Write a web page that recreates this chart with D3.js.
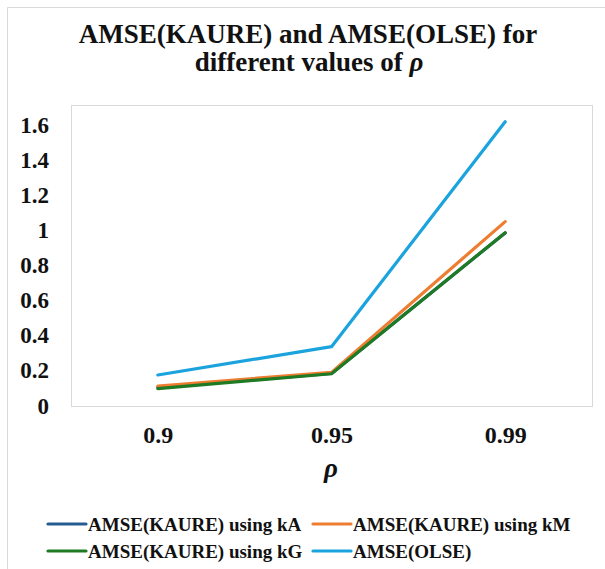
<!DOCTYPE html>
<html>
<head>
<meta charset="utf-8">
<script src="https://cdn.jsdelivr.net/npm/d3@7/dist/d3.min.js"></script>
<style>
  html, body { margin: 0; padding: 0; background: #fff; }
  svg { display: block; }
</style>
</head>
<body>
<svg id="chart" width="605" height="569"></svg>
<script>
// Correlation levels on the x axis
const rhoValues = ["0.9", "0.95", "0.99"];
// AMSE values for each estimator
const kaureKA = [0.100, 0.180, 0.980];
const kaureKM = [0.108, 0.186, 1.044];
const kaureKG = [0.093, 0.178, 0.981];
const olse    = [0.171, 0.332, 1.613];
const yTicks = [0, 0.2, 0.4, 0.6, 0.8, 1, 1.2, 1.4, 1.6];

const seriesNames = [
  "AMSE(KAURE) using kA",
  "AMSE(KAURE) using kM",
  "AMSE(KAURE) using kG",
  "AMSE(OLSE)"
];
const seriesColors = ["#245d8f", "#ed7d31", "#1f7a24", "#1aa3dd"];
const series = [kaureKA, kaureKM, kaureKG, olse];

const FONT = '"Liberation Serif"';
const styleText = sel => sel
  .style("font-family", FONT)
  .style("font-weight", "bold")
  .style("fill", "#111");

const svg = d3.select("#chart");

// Outer chart frame
svg.append("path")
  .attr("d", "M7.5,569 L7.5,7.5 L605,7.5")
  .attr("fill", "none")
  .attr("stroke", "#d9d9d9")
  .attr("stroke-width", 1);

// Plot area
const plot = { left: 71, right: 592, top: 105, bottom: 406 };

svg.append("rect")
  .attr("x", plot.left + 0.5).attr("y", plot.top + 0.5)
  .attr("width", plot.right - plot.left).attr("height", plot.bottom - plot.top)
  .attr("fill", "none").attr("stroke", "#d9d9d9").attr("stroke-width", 1);

const x = d3.scalePoint()
  .domain(rhoValues)
  .range([plot.left, plot.right])
  .padding(0.5);

const y = d3.scaleLinear()
  .domain([0, 1.6])
  .range([405, 124]);

// Title
const title = svg.append("text")
  .attr("text-anchor", "middle")
  .call(styleText)
  .style("font-size", "27px");
title.append("tspan").attr("x", 308).attr("y", 43).text("AMSE(KAURE) and AMSE(OLSE) for");
const t2 = title.append("tspan").attr("x", 309).attr("y", 71);
t2.append("tspan").text("different values of ");
t2.append("tspan").style("font-style", "italic").text("ρ");

// Y axis labels
const yAxis = d3.axisLeft(y).tickValues(yTicks).tickSize(0).tickPadding(0)
  .tickFormat(d => d3.format("~g")(d));
svg.append("g")
  .attr("transform", "translate(49,0)")
  .call(yAxis)
  .call(g => g.select(".domain").remove())
  .call(g => g.selectAll("text")
    .call(styleText)
    .style("font-size", "23px")
    .attr("dy", "0.35em"));

// X axis labels
const xAxis = d3.axisBottom(x).tickSize(0).tickPadding(0);
svg.append("g")
  .attr("transform", "translate(0,443)")
  .call(xAxis)
  .call(g => g.select(".domain").remove())
  .call(g => g.selectAll("text")
    .call(styleText)
    .style("font-size", "24px")
    .attr("y", 0)
    .attr("dy", "0"));

// X axis title
svg.append("text")
  .attr("x", 331).attr("y", 477)
  .attr("text-anchor", "middle")
  .call(styleText)
  .style("font-size", "27px")
  .style("font-style", "italic")
  .text("ρ");

// Lines
const line = d3.line()
  .x((d, i) => x(rhoValues[i]))
  .y(d => y(d));

series.forEach((vals, i) => {
  svg.append("path")
    .datum(vals)
    .attr("d", line)
    .attr("fill", "none")
    .attr("stroke", seriesColors[i])
    .attr("stroke-width", 3.2)
    .attr("stroke-linejoin", "round")
    .attr("stroke-linecap", "round");
});

// Legend: two columns, two rows
const legendPos = [
  { x: 48, y: 531 },
  { x: 313, y: 531 },
  { x: 48, y: 558 },
  { x: 313, y: 558 }
];
seriesNames.forEach((name, i) => {
  const g = svg.append("g").attr("transform", `translate(${legendPos[i].x},${legendPos[i].y})`);
  g.append("line")
    .attr("x1", 0).attr("x2", 38).attr("y1", -7).attr("y2", -7)
    .attr("stroke", seriesColors[i]).attr("stroke-width", 3.2)
    .attr("stroke-linecap", "round");
  g.append("text")
    .attr("x", 40).attr("y", 0)
    .call(styleText)
    .style("font-size", "19px")
    .text(name);
});
</script>
</body>
</html>
